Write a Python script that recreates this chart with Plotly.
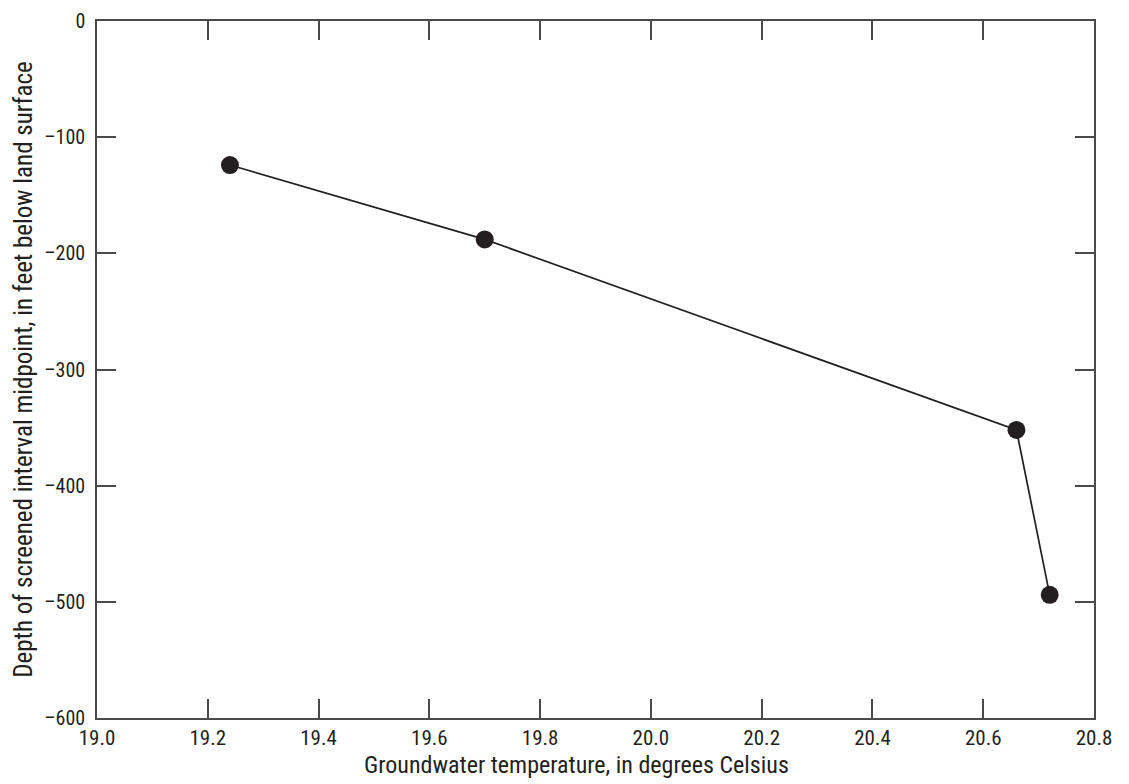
import plotly.graph_objects as go

temperature_c = [19.24, 19.70, 20.66, 20.72]
depth_ft = [-124, -188, -352, -494]

x_ticks = [19.0, 19.2, 19.4, 19.6, 19.8, 20.0, 20.2, 20.4, 20.6, 20.8]
x_ticklabels = ["19.0", "19.2", "19.4", "19.6", "19.8", "20.0", "20.2", "20.4", "20.6", "20.8"]
y_ticks = [0, -100, -200, -300, -400, -500, -600]
y_ticklabels = ["0", "\u2013100", "\u2013200", "\u2013300", "\u2013400", "\u2013500", "\u2013600"]

x_title = "Groundwater temperature, in degrees Celsius"
y_title = "Depth of screened interval midpoint, in feet below land surface"

FONT = "Liberation Sans Narrow, Arial Narrow, Roboto Condensed, sans-serif"
INK = "#231f20"
AX = "#4a4a4a"

fig = go.Figure()
fig.add_trace(go.Scatter(
    x=temperature_c, y=depth_ft, mode="lines+markers",
    line=dict(color=INK, width=1.7),
    marker=dict(color=INK, size=18),
    showlegend=False, cliponaxis=False,
))

fig.update_layout(
    width=1129, height=784,
    margin=dict(l=89, r=43, t=13, b=74),
    paper_bgcolor="white", plot_bgcolor="white",
    font=dict(family=FONT, color=INK, size=19),
)
fig.update_xaxes(
    range=[19.0, 20.8], tickvals=x_ticks, ticktext=x_ticklabels, automargin=False,
    showgrid=False, zeroline=False, showline=True, linecolor=AX, linewidth=1.5,
    mirror="ticks", ticks="inside", ticklen=19, tickwidth=1.5, tickcolor=AX,
    tickfont=dict(size=21, family=FONT, color=INK), ticklabelstandoff=0,
    ticklabeloverflow="allow",
)
fig.update_yaxes(
    range=[-600, 0], tickvals=y_ticks, ticktext=y_ticklabels, automargin=False,
    showgrid=False, zeroline=False, showline=True, linecolor=AX, linewidth=1.5,
    mirror="ticks", ticks="inside", ticklen=19, tickwidth=1.5, tickcolor=AX,
    tickfont=dict(size=20, family=FONT, color=INK), ticklabelstandoff=6,
    ticklabeloverflow="allow",
    title=dict(text=y_title, font=dict(size=25, family=FONT, color=INK), standoff=4),
)
fig.add_annotation(
    text=x_title, xref="paper", yref="paper", x=0.4805, y=0,
    xanchor="center", yanchor="top", yshift=-31, showarrow=False,
    font=dict(size=24, family=FONT, color=INK),
)

fig.write_html("out.html")
